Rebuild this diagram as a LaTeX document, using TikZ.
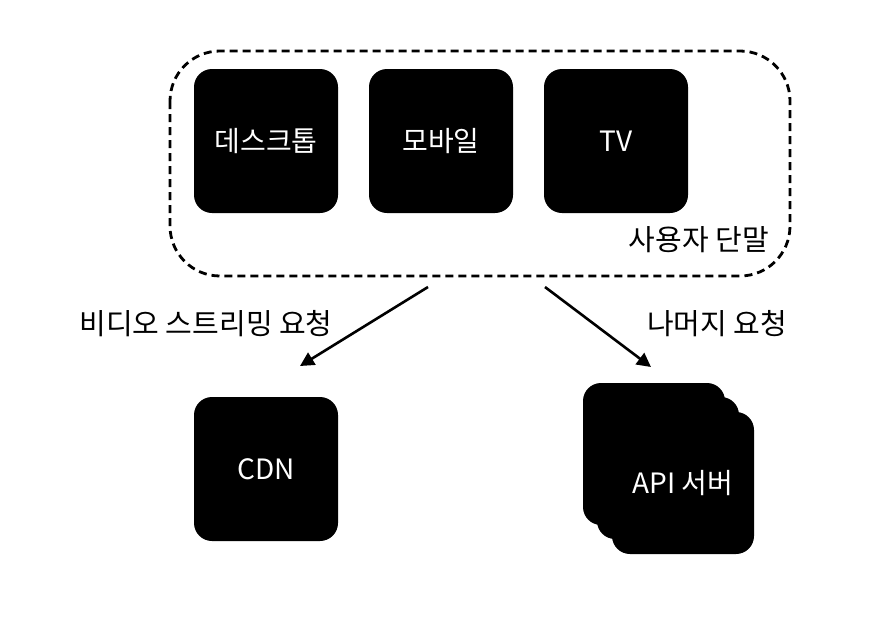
\documentclass[tikz,border=0pt]{standalone}
\usepackage{fontspec}
\setmainfont{Noto Sans CJK KR}
\usetikzlibrary{arrows.meta}
\begin{document}
\begin{tikzpicture}[x=1pt,y=-1pt,
  blk/.style={fill=black,rounded corners=18pt,minimum width=144pt,minimum height=144pt,inner sep=0pt,text=white,font=\fontsize{28}{30}\selectfont},
  grp/.style={draw=black,line width=2.8pt,dash pattern=on 8pt off 5pt,rounded corners=50pt},
  conn/.style={line width=2.6pt,-{Triangle[length=14pt,width=14pt]}},
  lbl/.style={font=\fontsize{29}{32}\selectfont,inner sep=0pt}]
\useasboundingbox (0,0) rectangle (874,624);
\draw[grp] (170,51) rectangle (790,276);
\coordinate (g1) at (428,287);
\coordinate (g2) at (545,287);
\node[blk] (desk) at (266,141) {데스크톱};
\node[blk] (mob) at (441,141) {모바일};
\node[blk] (tv) at (616,141) {TV};
\node[lbl,anchor=east] (users) at (769,240) {사용자 단말};
\node[blk] (cdn) at (266,469) {CDN};
\node[blk,minimum width=142pt,minimum height=142pt] (api1) at (654,454) {};
\node[blk,minimum width=142pt,minimum height=142pt] (api2) at (668,468) {};
\node[blk,minimum width=142pt,minimum height=142pt] (api3) at (683,483) {API 서버};
\coordinate (t1) at (300,366);
\coordinate (t2) at (651,367);
\draw[conn] (g1) -- (t1);
\draw[conn] (g2) -- (t2);
\node[lbl] (l1) at (206,324) {비디오 스트리밍 요청};
\node[lbl] (l2) at (717,324) {나머지 요청};
\end{tikzpicture}
\end{document}
